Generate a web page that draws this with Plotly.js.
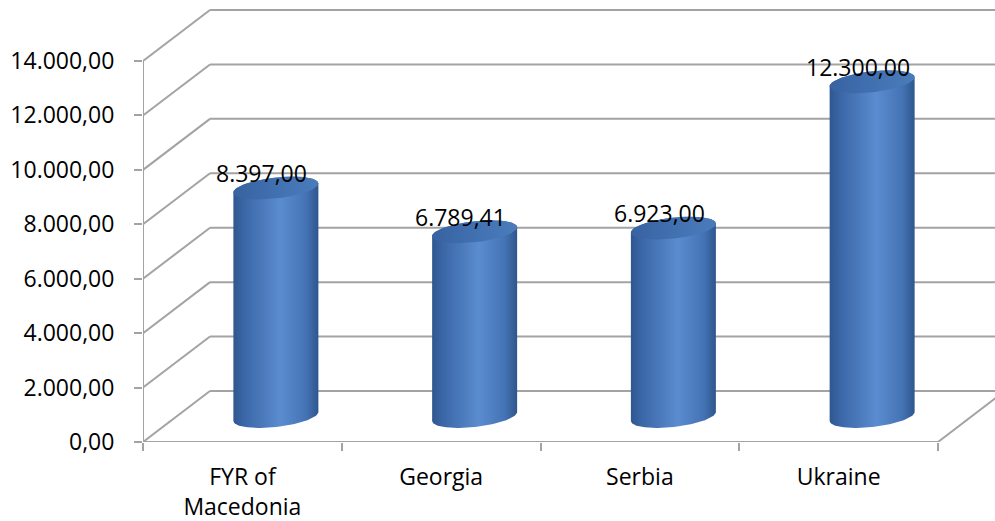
<!DOCTYPE html>
<html>
<head>
<meta charset="utf-8">
<script src="https://cdn.plot.ly/plotly-3.0.1.min.js"></script>
<style>html,body{margin:0;padding:0;background:#fff;}#chart{width:995px;height:521px;}</style>
</head>
<body>
<div id="chart"></div>
<script>
// ---- data ----
const categories = ['FYR of<br>Macedonia', 'Georgia', 'Serbia', 'Ukraine'];
const values = [8397.00, 6789.41, 6923.00, 12300.00];
const valueLabels = ['8.397,00', '6.789,41', '6.923,00', '12.300,00'];
const yTickVals = [0, 2000, 4000, 6000, 8000, 10000, 12000, 14000];
const yTickText = ['0,00', '2.000,00', '4.000,00', '6.000,00', '8.000,00', '10.000,00', '12.000,00', '14.000,00'];

// ---- geometry (layout) ----
const W = 995, H = 521;
const M = {l: 143, r: 0, t: 0, b: 79};
const plotW = W - M.l - M.r, plotH = H - M.t - M.b;
const yMaxTick = 14000;
const pxPerUnit = 381 / yMaxTick;           // vertical scale
const pxPerCat = 198.75;                    // horizontal scale
const xRange = [-0.5, -0.5 + plotW / pxPerCat];
const yRange = [0, plotH / pxPerUnit];
const DX = 67 / pxPerCat;                   // depth offset (x units)
const DY = 51 / pxPerUnit;                  // depth offset (y units)
const RX = 42.5 / pxPerCat;                 // cylinder radius
const RY = 10.5 / pxPerUnit;                // ellipse half-height
const TILT = 4.5 / pxPerUnit;               // ellipse tilt
const gridColor = '#a3a3a3';
const font = 'Open Sans, Noto Sans, sans-serif';
const fontSize = 23;

// ---- frame shapes ----
const shapes = [];
const line = (x0, y0, x1, y1) => shapes.push({type: 'line', xref: 'x', yref: 'y', x0, y0, x1, y1, layer: 'below', line: {color: gridColor, width: 2}});
yTickVals.forEach(v => {
  line(xRange[0], v, xRange[0] + DX, v + DY);          // left wall diagonal
  line(xRange[0] + DX, v + DY, xRange[1] + 1, v + DY); // back wall line
});
line(xRange[0], 0, xRange[0], yMaxTick);                // front vertical axis
const lastEdge = categories.length - 0.5;
line(xRange[0], 0, lastEdge, 0);                        // floor front edge
line(lastEdge, 0, lastEdge + DX * 1.5, DY * 1.5);       // floor right edge

// ---- cylinders ----
function ellipsePts(cx, cy, t0, t1, n) {
  const xs = [], ys = [];
  for (let k = 0; k <= n; k++) {
    const t = t0 + (t1 - t0) * k / n;
    xs.push(cx + RX * Math.cos(t));
    ys.push(cy + RY * Math.sin(t) + TILT * Math.cos(t));
  }
  return [xs, ys];
}
const traces = [];
values.forEach((v, i) => {
  const cx = i + DX / 2;
  const yb = DY / 2, yt = v + DY / 2;
  const [bx, by] = ellipsePts(cx, yb, Math.PI, 2 * Math.PI, 60);
  const [tx, ty] = ellipsePts(cx, yt, 0, Math.PI, 60);
  traces.push({
    type: 'scatter', mode: 'lines', x: bx.concat(tx, [bx[0]]), y: by.concat(ty, [by[0]]),
    fill: 'toself', line: {width: 0, color: 'rgba(0,0,0,0)'},
    fillcolor: '#4a7bbf',
    fillgradient: {type: 'horizontal', colorscale: [[0, '#2f5790'], [0.12, '#3a66a6'], [0.55, '#5a8ccf'], [0.85, '#4574b6'], [1, '#2e568d']]},
    hoverinfo: 'skip', showlegend: false
  });
  const [cxs, cys] = ellipsePts(cx, yt, 0, 2 * Math.PI, 80);
  traces.push({
    type: 'scatter', mode: 'lines', x: cxs, y: cys,
    fill: 'toself', line: {width: 0, color: 'rgba(0,0,0,0)'},
    fillcolor: '#4170b0',
    fillgradient: {type: 'horizontal', colorscale: [[0, '#3862a1'], [0.6, '#4373b3'], [1, '#4a7bbb']]},
    hoverinfo: 'skip', showlegend: false
  });
});

// invisible trace on xaxis2 so the category labels render
traces.push({type: 'scatter', mode: 'markers', x: [0], y: [0], xaxis: 'x2', marker: {opacity: 0}, hoverinfo: 'skip', showlegend: false});

const annotations = values.map((v, i) => ({
  x: i + DX / 2, y: v + DY / 2, xref: 'x', yref: 'y', text: valueLabels[i], showarrow: false,
  xanchor: 'center', yanchor: 'middle', xshift: -14, yshift: 15,
  font: {family: font, size: fontSize, color: '#000'}
}));

const layout = {
  width: W, height: H, margin: M, paper_bgcolor: '#fff', plot_bgcolor: '#fff', showlegend: false,
  xaxis: {range: xRange, showgrid: false, zeroline: false, showline: false,
    tickmode: 'array', tickvals: categories.map((c, i) => i - 0.5).concat([categories.length - 0.5]),
    ticks: 'outside', ticklen: 8, tickwidth: 2, tickcolor: gridColor, showticklabels: false, fixedrange: true},
  xaxis2: {range: xRange, overlaying: 'x', anchor: 'y', side: 'bottom', showgrid: false, zeroline: false, showline: false,
    tickmode: 'array', tickvals: categories.map((c, i) => i), ticktext: categories, ticks: '',
    ticklabelstandoff: 19, tickfont: {family: font, size: fontSize, color: '#000'}},
  yaxis: {range: yRange, showgrid: false, zeroline: false, showline: false,
    tickmode: 'array', tickvals: yTickVals, ticktext: yTickText, ticks: 'outside', ticklen: 8, tickwidth: 2,
    tickcolor: gridColor, ticklabelstandoff: 15, tickfont: {family: font, size: fontSize, color: '#000'}},
  shapes, annotations
};
Plotly.newPlot('chart', traces, layout, {displayModeBar: false, staticPlot: true});
</script>
</body>
</html>
